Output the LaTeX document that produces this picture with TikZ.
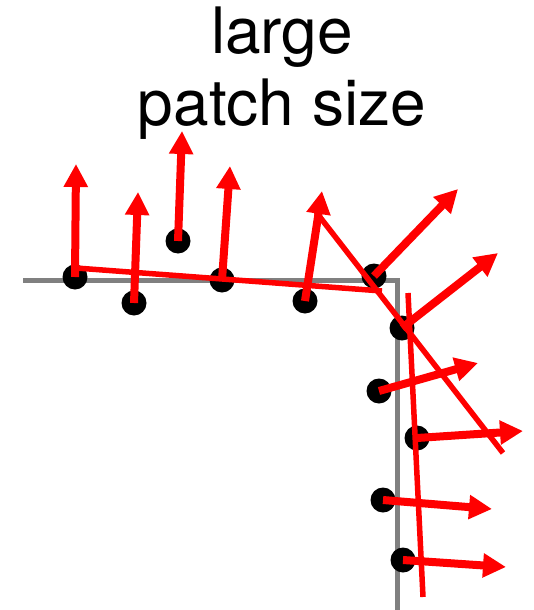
\documentclass[tikz,border=0pt]{standalone}
\usepackage{fontspec}
\setmainfont{TeX Gyre Heros}
\usetikzlibrary{arrows.meta}
\begin{document}
\begin{tikzpicture}[x=1pt,y=-1pt,
  dot/.style={circle,fill=black,inner sep=0pt,minimum size=25pt},
  normal/.style={draw=red,line width=8pt,-{Triangle[length=23pt,width=23pt]}},
  fitline/.style={draw=red,line width=5.5pt},
  edge/.style={draw=black!50,line width=5pt},
  title/.style={anchor=base,font=\fontsize{64}{72}\selectfont,inner sep=0pt}]
\useasboundingbox (0,0) rectangle (533,610);
% gray corner
\coordinate (g1) at (23,280);
\coordinate (g2) at (397,280);
\coordinate (g3) at (397,610);
\draw[edge] (g1) -- (g2) -- (g3);
% title
\node[title] (t1) at (282,53) {large};
\node[title] (t2) at (282,125) {patch size};
% dots
\node[dot] (d1) at (75,277) {};
\node[dot] (d2) at (134,303) {};
\node[dot] (d3) at (178,241) {};
\node[dot] (d4) at (222,280) {};
\node[dot] (d5) at (305,301) {};
\node[dot] (d6) at (374,276) {};
\node[dot] (d7) at (402,328) {};
\node[dot] (d8) at (379,391) {};
\node[dot] (d9) at (417,438) {};
\node[dot] (d10) at (383,500) {};
\node[dot] (d11) at (403,560) {};
% arrow tips
\coordinate (a1) at (76,164);
\coordinate (a2) at (138,192);
\coordinate (a3) at (182,131);
\coordinate (a4) at (230,166);
\coordinate (a5) at (322,191);
\coordinate (a6) at (458,189);
\coordinate (a7) at (498,253);
\coordinate (a8) at (478,363);
\coordinate (a9) at (523,431);
\coordinate (a10) at (492,509);
\coordinate (a11) at (506,567);
% fitted lines
\coordinate (la) at (76,268);
\coordinate (lb) at (382,291);
\coordinate (lc) at (316,212);
\coordinate (ld) at (503,453);
\coordinate (le) at (408,293);
\coordinate (lf) at (423,597);
\draw[fitline] (la) -- (lb);
\draw[fitline] (lc) -- (ld);
\draw[fitline] (le) -- (lf);
% normals
\draw[normal] (d1.center) -- (a1);
\draw[normal] (d2.center) -- (a2);
\draw[normal] (d3.center) -- (a3);
\draw[normal] (d4.center) -- (a4);
\draw[normal] (d5.center) -- (a5);
\draw[normal] (d6.center) -- (a6);
\draw[normal] (d7.center) -- (a7);
\draw[normal] (d8.center) -- (a8);
\draw[normal] (d9.center) -- (a9);
\draw[normal] (d10.center) -- (a10);
\draw[normal] (d11.center) -- (a11);
\end{tikzpicture}
\end{document}
